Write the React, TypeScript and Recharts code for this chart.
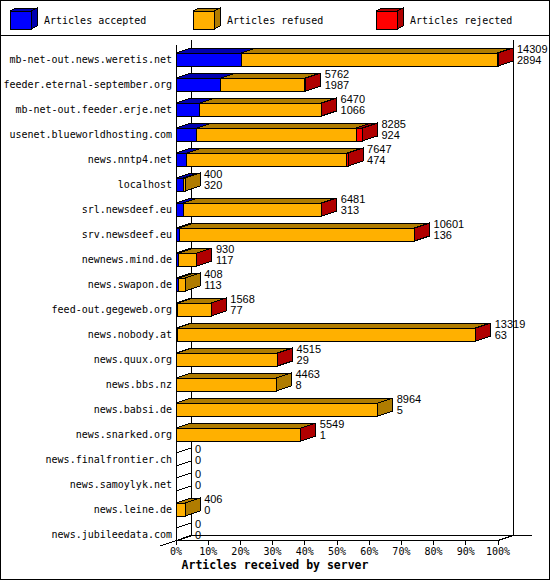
import React from 'react';
import { BarChart, Bar, XAxis, YAxis, LabelList } from 'recharts';

// ---------- data ----------
const servers = [
  'mb-net-out.news.weretis.net',
  'feeder.eternal-september.org',
  'mb-net-out.feeder.erje.net',
  'usenet.blueworldhosting.com',
  'news.nntp4.net',
  'localhost',
  'srl.newsdeef.eu',
  'srv.newsdeef.eu',
  'newnews.mind.de',
  'news.swapon.de',
  'feed-out.gegeweb.org',
  'news.nobody.at',
  'news.quux.org',
  'news.bbs.nz',
  'news.babsi.de',
  'news.snarked.org',
  'news.finalfrontier.ch',
  'news.samoylyk.net',
  'news.leine.de',
  'news.jubileedata.com',
];
const totals = [14309, 5762, 6470, 8285, 7647, 400, 6481, 10601, 930, 408, 1568, 13319, 4515, 4463, 8964, 5549, 0, 0, 406, 0];
const accepted = [2894, 1987, 1066, 924, 474, 320, 313, 136, 117, 113, 77, 63, 29, 8, 5, 1, 0, 0, 0, 0];
const rejected = [40, 30, 25, 270, 60, 0, 20, 20, 12, 0, 10, 15, 10, 0, 0, 8, 0, 0, 0, 0];

const tickPercents = [0, 10, 20, 30, 40, 50, 60, 70, 80, 90, 100];
const tickLabels = ['0%', '10%', '20%', '30%', '40%', '50%', '60%', '70%', '80%', '90%', '100%'];

const seriesKeys = ['accepted', 'refused', 'rejected'];
const seriesNames = ['Articles accepted', 'Articles refused', 'Articles rejected'];
const frontColors = ['#0000ff', '#ffb000', '#ff0000'];
const shadeColors = ['#0000b0', '#b07c00', '#b00000'];
const axisTitle = 'Articles received by server';

// ---------- layout ----------
const W = 550;
const H = 580;
const MARGIN = { top: 41, right: 52, bottom: 9, left: 0 };
const Y_AXIS_W = 176;
const X_AXIS_H = 30;
const DX = 15;
const DY = 5;
const BAR = 13;
const SHIFT = 6;
const FONT = '"DejaVu Sans Mono", "Liberation Mono", monospace';
const NUM_FONT = '"Liberation Sans", Arial, sans-serif';

const PL = MARGIN.left + Y_AXIS_W;
const PR = W - MARGIN.right;
const PB = H - MARGIN.bottom - X_AXIS_H;

const maxTotal = Math.max(...totals);
const refused = totals.map((t, i) => t - accepted[i] - rejected[i]);
const data = servers.map((name, i) => ({
  name,
  accepted: (accepted[i] / maxTotal) * 100,
  refused: (refused[i] / maxTotal) * 100,
  rejected: (rejected[i] / maxTotal) * 100,
}));

const makeShape = (si: number) => (props: any) => {
  const { x, y, width, height, index } = props;
  if (!(width > 0.01)) return <g />;
  const vals = [accepted[index], refused[index], rejected[index]];
  const isLast = vals.slice(si + 1).every((v) => v <= 0);
  const yt = y + SHIFT;
  const yb = yt + height;
  const x2 = x + width;
  return (
    <g shapeRendering="crispEdges" stroke="#000" strokeWidth={1}>
      <polygon
        points={`${x},${yt} ${x2},${yt} ${x2 + DX},${yt - DY} ${x + DX},${yt - DY}`}
        fill={shadeColors[si]}
      />
      <rect x={x} y={yt} width={width} height={height} fill={frontColors[si]} />
      {isLast && (
        <polygon
          points={`${x2},${yt} ${x2 + DX},${yt - DY} ${x2 + DX},${yb - DY} ${x2},${yb}`}
          fill={shadeColors[si]}
        />
      )}
    </g>
  );
};

const ValueLabel = (props: any) => {
  const vb = props.viewBox && props.viewBox.width !== undefined ? props.viewBox : props;
  const { x, y, width, height } = vb;
  const i = props.index;
  const yt = y + SHIFT;
  const yb = yt + height;
  const x2 = x + width;
  const lx = x2 + DX + 4;
  const zero = totals[i] === 0;
  return (
    <g>
      {zero && (
        <g stroke="#000" fill="none" shapeRendering="crispEdges">
          <line x1={x2} y1={yt} x2={x2 + DX} y2={yt - DY} />
          <line x1={x2} y1={yb} x2={x2 + DX} y2={yb - DY} />
          <line x1={x2} y1={yt} x2={x2} y2={yb} />
          <line x1={x2 + DX} y1={yt - DY} x2={x2 + DX} y2={yb - DY} />
        </g>
      )}
      <text x={lx} y={yt} fontFamily={NUM_FONT} fontSize={11} fill="#000">
        {totals[i]}
      </text>
      <text x={lx} y={yt + 10.5} fontFamily={NUM_FONT} fontSize={11} fill="#000">
        {accepted[i]}
      </text>
    </g>
  );
};

const CategoryTick = (props: any) => {
  const { x, y, payload } = props;
  return (
    <text x={x} y={y + SHIFT + 3.5} textAnchor="end" fontFamily={FONT} fontSize={10} fill="#000">
      {payload.value}
    </text>
  );
};

const PercentTick = (props: any) => {
  const { x, y, index } = props;
  return (
    <g>
      <line x1={x} y1={y} x2={x} y2={y + 4} stroke="#000" shapeRendering="crispEdges" />
      <text x={x} y={y + 14} textAnchor="middle" fontFamily={FONT} fontSize={10} fill="#000">
        {tickLabels[index]}
      </text>
    </g>
  );
};

const Frame = () => (
  <svg width={W} height={H} style={{ position: 'absolute', left: 0, top: 0 }}>
    <rect x={0.5} y={0.5} width={W - 1} height={H - 1} fill="#fff" stroke="#000" />
    <g stroke="#000" shapeRendering="crispEdges" fill="none">
      <line x1={0} y1={35.5} x2={W} y2={35.5} />
      <line x1={PL + 0.5} y1={45} x2={PL + 0.5} y2={PB} />
      <line x1={PL + DX + 0.5} y1={40} x2={PL + DX + 0.5} y2={PB - DY} />
      <line x1={PR + DX + 0.5} y1={40} x2={PR + DX + 0.5} y2={PB - DY} />
      <line x1={PL + DX} y1={PB - DY - 0.5} x2={PR + DX + 19} y2={PB - DY - 0.5} />
      <line x1={PL} y1={PB - 0.5} x2={PR} y2={PB - 0.5} />
      <line x1={PR} y1={PB - 0.5} x2={PR + DX} y2={PB - DY - 0.5} />
      <line x1={PL - 16} y1={PB + 5} x2={PL + DX} y2={PB - DY - 0.5} />
    </g>
    {seriesNames.map((name, i) => {
      const x0 = 10 + i * 183;
      return (
        <g key={name}>
          <g stroke="#000" shapeRendering="crispEdges">
            <polygon
              points={`${x0},${11} ${x0 + 21},${11} ${x0 + 27},${8} ${x0 + 6},${8}`}
              fill={shadeColors[i]}
            />
            <polygon
              points={`${x0 + 21},${11} ${x0 + 27},${8} ${x0 + 27},${26} ${x0 + 21},${29}`}
              fill={shadeColors[i]}
            />
            <rect x={x0} y={11} width={21} height={18} fill={frontColors[i]} />
          </g>
          <text x={x0 + 34} y={23.5} fontFamily={FONT} fontSize={10} fill="#000">
            {name}
          </text>
        </g>
      );
    })}
    <text
      x={W / 2}
      y={569}
      textAnchor="middle"
      fontFamily={FONT}
      fontSize={11.5}
      fontWeight="bold"
      fill="#000"
    >
      {axisTitle}
    </text>
  </svg>
);

export default function App() {
  return (
    <div style={{ position: 'absolute', left: 0, top: 0, width: W, height: H, background: '#fff' }}>
      <Frame />
      <div style={{ position: 'absolute', left: 0, top: 0 }}>
        <BarChart width={W} height={H} data={data} layout="vertical" margin={MARGIN} barSize={BAR}>
          <XAxis
            type="number"
            domain={[0, 100]}
            ticks={tickPercents}
            height={X_AXIS_H}
            axisLine={false}
            tickLine={false}
            tickSize={0}
            tickMargin={0}
            tick={<PercentTick />}
            interval={0}
          />
          <YAxis
            type="category"
            dataKey="name"
            width={Y_AXIS_W}
            axisLine={false}
            tickLine={false}
            tickSize={0}
            tickMargin={4}
            tick={<CategoryTick />}
            interval={0}
          />
          {seriesKeys.map((k, si) => (
            <Bar
              key={k}
              dataKey={k}
              stackId="a"
              name={seriesNames[si]}
              fill={frontColors[si]}
              shape={makeShape(si)}
              isAnimationActive={false}
            >
              {si === seriesKeys.length - 1 && <LabelList dataKey={k} content={<ValueLabel />} />}
            </Bar>
          ))}
        </BarChart>
      </div>
    </div>
  );
}
